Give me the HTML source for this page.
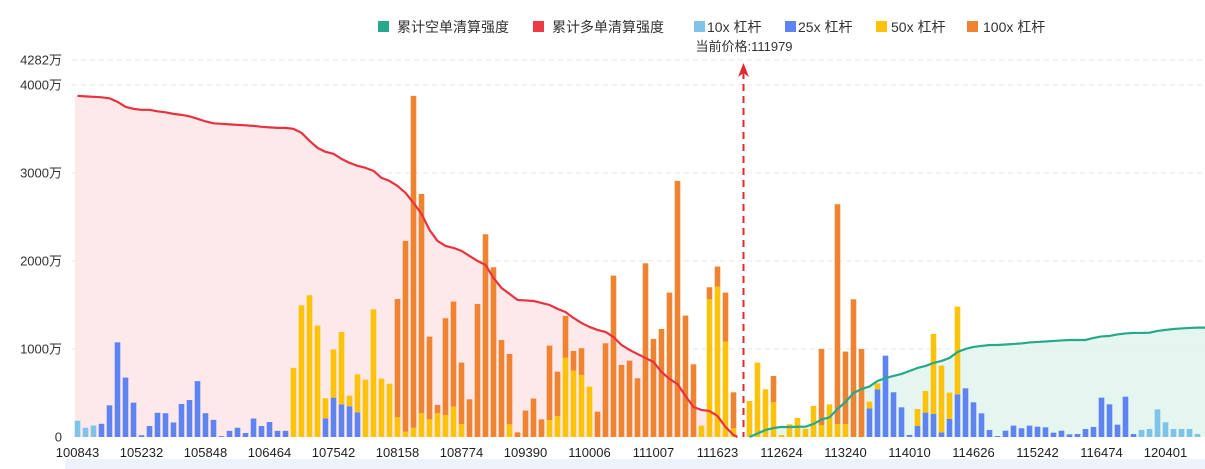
<!DOCTYPE html>
<html><head><meta charset="utf-8">
<style>
html,body{margin:0;padding:0;background:#fff;}
svg{display:block;font-family:"Liberation Sans","Noto Sans CJK SC",sans-serif;}
</style></head>
<body>
<svg id="chart" width="1205" height="469" viewBox="0 0 1205 469" xmlns="http://www.w3.org/2000/svg">
  <rect x="65" y="459" width="1140" height="10" fill="#eef3fb"/>
  <g id="grid"></g>
  <g id="areas"></g>
  <g id="bars"></g>
  <g id="lines"></g>
  <g id="axis"></g>
  <g font-size="14" fill="#333">
    <g><rect x="378" y="21" width="11" height="11" fill="#25a98a"/><text x="397" y="32">累计空单清算强度</text></g>
    <g><rect x="533" y="21" width="11" height="11" fill="#ec3b45"/><text x="552" y="32">累计多单清算强度</text></g>
    <g><rect x="694" y="21" width="11" height="11" fill="#80c3e9"/><text x="707" y="32">10x 杠杆</text></g>
    <g><rect x="785" y="21" width="11" height="11" fill="#5f84f2"/><text x="798" y="32">25x 杠杆</text></g>
    <g><rect x="876" y="21" width="11" height="11" fill="#fcc30a"/><text x="891" y="32">50x 杠杆</text></g>
    <g><rect x="967" y="21" width="11" height="11" fill="#ee8432"/><text x="983" y="32">100x 杠杆</text></g>
  </g>
  <text x="744" y="51" font-size="13" fill="#333" text-anchor="middle">当前价格:111979</text>
  <g>
    <line x1="743.5" y1="72" x2="743.5" y2="437" stroke="#e3262f" stroke-width="2" stroke-dasharray="7,5"/>
    <path d="M743.5 63 L738 77 L743.5 73 L749 77 Z" fill="#e3262f"/>
  </g>
</svg>
<script>
const xLabels=["100843","105232","105848","106464","107542","108158","108774","109390","110006","111007","111623","112624","113240","114010","114626","115242","116474","120401"];
const yTicks=[0,1000,2000,3000,4000,4282];
const s10=[185,105,130,0,0,0,0,0,0,0,
0,0,0,0,0,0,0,0,0,0, 0,0,0,0,0,0,0,0,0,0, 0,0,0,0,0,0,0,0,0,0, 0,0,0,0,0,0,0,0,0,0,
0,0,0,0,0,0,0,0,0,0, 0,0,0,0,0,0,0,0,0,0, 0,0,0,0,0,0,0,0,0,0, 0,0,0,0,0,0,0,0,0,0,
0,0,0,0,0,0,0,0,0,0, 0,0,0,0,0,0,0,0,0,0, 0,0,0,0,0,0,0,0,0,0, 0,0,0,0,0,0,0,0,0,0,
0,0,0,80,91,314,167,91,91,91,34];
const s25=[0,0,0,150,360,1075,675,390,20,125,
275,270,165,375,420,635,270,195,10,70,
105,45,210,125,170,70,70,0,0,0,
0,212,447,372,350,280,0,0,0,0,
0,0,0,0,0,0,0,0,0,0, 0,0,0,0,0,0,0,0,0,0, 0,0,0,0,0,0,0,0,0,0, 0,0,0,0,0,0,0,0,0,0, 0,0,0,0,0,0,0,0,0,0,
0,0,0,0,0,0,0,0,0,326,
542,924,508,337,23,125,277,261,53,205,
485,553,394,269,80,11,72,129,99,129,
117,110,49,72,30,34,91,114,447,371,
140,458,34,0,0,0,0,0,0,0,0];
const s50=[0,0,0,0,0,0,0,0,0,0, 0,0,0,0,0,0,0,0,0,0,
0,0,0,0,0,0,0,785,1495,1610,
1265,228,548,821,120,432,651,1450,662,605,
227,60,105,270,200,270,250,345,148,0,
0,0,0,0,144,0,0,0,0,193,
239,902,754,705,572,0,0,0,0,0,
0,0,0,0,0,0,0,0,129,1564,
1708,1083,99,0,409,845,542,394,23,144,
216,94,352,136,371,148,148,0,0,76,
67,0,0,0,0,193,246,909,758,299,
996,0,0,0,0,0,0,0,0,0, 0,0,0,0,0,0,0,0,0,0, 0,0,0,0,0,0,0,0,0,0, 0];
const s100=[0,0,0,0,0,0,0,0,0,0, 0,0,0,0,0,0,0,0,0,0, 0,0,0,0,0,0,0,0,0,0, 0,0,0,0,0,0,0,0,0,0,
1341,2167,3770,2491,940,94,1099,1193,697,428,
1511,2303,1928,1102,799,53,300,436,200,845,
503,473,223,303,0,288,1064,1833,818,867,
667,1973,1114,1227,1640,2909,1379,826,0,137,
228,557,409,0,0,0,0,299,0,0,
0,0,0,864,0,2496,822,1564,1000,0,
0,0,0,0,0,0,0,0,0,0, 0,0,0,0,0,0,0,0,0,0, 0,0,0,0,0,0,0,0,0,0, 0,0,0,0,0,0,0,0,0,0, 0];
const longCum=[3875,3869,3864,3858,3847,3807,3750,3727,3716,3716,3699,3688,3670,3659,3642,3614,3585,3563,3557,3551,3545,3540,3534,3523,3517,3511,3511,3500,3455,3364,3284,3239,3216,3159,3114,3080,3057,3023,2943,2909,2852,2773,2659,2534,2352,2227,2170,2148,2114,2057,2000,1955,1807,1693,1625,1557,1551,1545,1523,1500,1455,1420,1352,1295,1250,1216,1193,1136,1045,989,943,898,852,739,659,602,466,341,307,295,239,114,23];
const shortCum=[0,40,80,102,114,114,116,117,148,199,224,318,398,500,545,574,636,670,693,716,750,784,807,841,864,898,966,1000,1023,1034,1045,1045,1051,1057,1063,1074,1080,1085,1091,1097,1102,1102,1102,1125,1142,1148,1165,1176,1182,1182,1185,1205,1216,1227,1233,1239,1242];
const shortStart=84;

const NS="http://www.w3.org/2000/svg";
const X0=77.5, STEP=8, BW=5.6, Y0=437, YMAX=4282, YTOP=60;
const xs=i=>X0+STEP*i;
const ys=v=>Y0-(v/YMAX)*(Y0-YTOP);
function mk(tag,attrs,parent){const e=document.createElementNS(NS,tag);for(const k in attrs)e.setAttribute(k,attrs[k]);parent.appendChild(e);return e;}
const grid=document.getElementById('grid'),axis=document.getElementById('axis'),bars=document.getElementById('bars'),areas=document.getElementById('areas'),lines=document.getElementById('lines');

yTicks.forEach(t=>{
  const y=ys(t);
  if(t>0){const g=mk('line',{x1:72,x2:1205,y1:y,y2:y,stroke:'#e6e6e6','stroke-width':1,'stroke-dasharray':'5,4'},grid);
  
  }
  const tx=mk('text',{x:62,y:y+4.5,'font-size':13,fill:'#333','text-anchor':'end'},axis);
  
  
  tx.textContent=t===0?'0':t+'万';
});
xLabels.forEach((l,k)=>{
  const tx=mk('text',{x:xs(k*8),y:457,'font-size':13,fill:'#222','text-anchor':'middle'},axis);
  
  
  tx.textContent=l;
});

// areas & lines
let dl='',pl='';
longCum.forEach((v,i)=>{dl+=(i?'L':'M')+xs(i)+' '+ys(v)+' ';});
const la=mk('path',{d:'M75 '+Y0+' L75 '+ys(longCum[0])+' '+dl.replace('M','L')+'L'+xs(longCum.length-1)+' '+Y0+' Z',fill:'#fde6e8',opacity:0.9},areas);


let ds='';
shortCum.forEach((v,j)=>{ds+=(j?'L':'M')+xs(shortStart+j)+' '+ys(v)+' ';});
const lastS=shortCum[shortCum.length-1];
const sa=mk('path',{d:ds+'L1205 '+ys(lastS)+' L1205 '+Y0+' L'+xs(shortStart)+' '+Y0+' Z',fill:'#e2f4ee',opacity:0.9},areas);



const stacks=[[s10,'#80c3e9','bar-10x'],[s25,'#5f84f2','bar-25x'],[s50,'#fcc30a','bar-50x'],[s100,'#ee8432','bar-100x']];
for(let i=0;i<s10.length;i++){
  let base=0;
  stacks.forEach(([arr,col,name])=>{
    const v=arr[i];
    if(v>0){
      const y1=ys(base+v),y2=ys(base);
      const r=mk('rect',{x:xs(i)-BW/2,y:y1,width:BW,height:y2-y1,fill:col},bars);
      
      
      base+=v;
    }
  });
}
const ll=mk('path',{d:dl+'L'+(xs(longCum.length-1)+4)+' '+Y0,fill:'none',stroke:'#e8323f','stroke-width':2.2,'stroke-linejoin':'round'},lines);


const sl=mk('path',{d:ds+'L1205 '+ys(lastS),fill:'none',stroke:'#25a98a','stroke-width':2.2,'stroke-linejoin':'round'},lines);


</script>
</body></html>
